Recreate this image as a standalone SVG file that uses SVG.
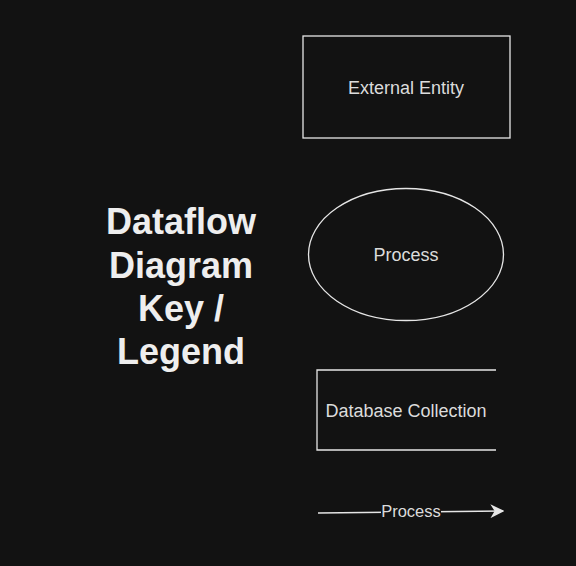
<svg xmlns="http://www.w3.org/2000/svg" width="576" height="566" viewBox="0 0 576 566">
<style>
.shape{fill:none;stroke:#e6e6e6;stroke-width:1.3}
.lbl{font-family:"Liberation Sans",Arial,sans-serif;font-size:18px;fill:#dcdcdc;text-anchor:middle}
.elbl{font-family:"Liberation Sans",Arial,sans-serif;font-size:16.5px;fill:#dcdcdc;text-anchor:middle}
.title{font-family:"Liberation Sans",Arial,sans-serif;font-size:36px;font-weight:bold;fill:#eeeeee;text-anchor:middle}
</style>
<defs>
<marker id="arr" viewBox="0 0 10 10" refX="9" refY="5" markerWidth="14" markerHeight="14" markerUnits="userSpaceOnUse" orient="auto">
<path d="M0,0 L10,5 L0,10 L3,5 Z" fill="#e6e6e6"/>
</marker>
</defs>
<rect width="576" height="566" fill="#121212"/>
<g id="title">
<text class="title" x="181" y="234">Dataflow</text>
<text class="title" x="181" y="278">Diagram</text>
<text class="title" x="181" y="321">Key /</text>
<text class="title" x="181" y="364">Legend</text>
</g>
<g id="external-entity">
<rect class="shape" x="303" y="36" width="207" height="102" fill="#121212"/>
<text class="lbl" x="406" y="94">External Entity</text>
</g>
<g id="process">
<ellipse class="shape" cx="406" cy="254.5" rx="97.5" ry="66"/>
<text class="lbl" x="406" y="261">Process</text>
</g>
<g id="database">
<path class="shape" d="M496,370 H317 V450 H496"/>
<text class="lbl" x="406" y="417">Database Collection</text>
</g>
<g id="connectors">
<path class="shape" d="M318,513 L503,511" marker-end="url(#arr)"/>
<rect x="381" y="502" width="60" height="18" fill="#121212"/>
<text class="elbl" x="411" y="517">Process</text>
</g>
</svg>
